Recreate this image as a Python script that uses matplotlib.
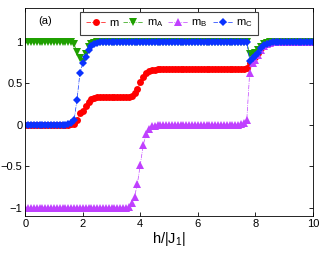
import numpy as np
import matplotlib
matplotlib.use("Agg")
import matplotlib.pyplot as plt

plt.rcParams.update({"font.family": ["Liberation Sans", "DejaVu Sans"],
                     "mathtext.fontset": "custom", "mathtext.rm": "Liberation Sans"})

# field grid h/|J1| = 0, 0.1, ..., 10
h = np.linspace(0, 10, 101)

m_A = [1.00, 1.00, 1.00, 1.00, 1.00, 1.00, 1.00, 1.00, 1.00, 1.00,
       1.00, 1.00, 1.00, 1.00, 1.00, 1.00, 1.00, 0.97, 0.88, 0.80,
       0.76, 0.85, 0.94, 0.98, 0.99, 1.00, 1.00, 1.00, 1.00, 1.00,
       1.00, 1.00, 1.00, 1.00, 1.00, 1.00, 1.00, 1.00, 1.00, 1.00,
       1.00, 1.00, 1.00, 1.00, 1.00, 1.00, 1.00, 1.00, 1.00, 1.00,
       1.00, 1.00, 1.00, 1.00, 1.00, 1.00, 1.00, 1.00, 1.00, 1.00,
       1.00, 1.00, 1.00, 1.00, 1.00, 1.00, 1.00, 1.00, 1.00, 1.00,
       1.00, 1.00, 1.00, 1.00, 1.00, 1.00, 1.00, 1.00, 0.85, 0.84,
       0.86, 0.90, 0.94, 0.97, 0.99, 1.00, 1.00, 1.00, 1.00, 1.00,
       1.00, 1.00, 1.00, 1.00, 1.00, 1.00, 1.00, 1.00, 1.00, 1.00,
       1.00]
m_B = [-1.00, -1.00, -1.00, -1.00, -1.00, -1.00, -1.00, -1.00, -1.00, -1.00,
       -1.00, -1.00, -1.00, -1.00, -1.00, -1.00, -1.00, -1.00, -1.00, -1.00,
       -1.00, -1.00, -1.00, -1.00, -1.00, -1.00, -1.00, -1.00, -1.00, -1.00,
       -1.00, -1.00, -1.00, -1.00, -1.00, -1.00, -0.99, -0.95, -0.87, -0.71,
       -0.48, -0.25, -0.11, -0.05, -0.02, -0.01, 0.00, 0.00, 0.00, 0.00,
       0.00, 0.00, 0.00, 0.00, 0.00, 0.00, 0.00, 0.00, 0.00, 0.00,
       0.00, 0.00, 0.00, 0.00, 0.00, 0.00, 0.00, 0.00, 0.00, 0.00,
       0.00, 0.00, 0.00, 0.00, 0.00, 0.01, 0.02, 0.06, 0.63, 0.74,
       0.78, 0.84, 0.90, 0.95, 0.98, 0.99, 1.00, 1.00, 1.00, 1.00,
       1.00, 1.00, 1.00, 1.00, 1.00, 1.00, 1.00, 1.00, 1.00, 1.00,
       1.00]
m_C = [0.00, 0.00, 0.00, 0.00, 0.00, 0.00, 0.00, 0.00, 0.00, 0.00,
       0.00, 0.00, 0.00, 0.00, 0.00, 0.01, 0.02, 0.06, 0.30, 0.62,
       0.74, 0.82, 0.90, 0.95, 0.98, 0.99, 1.00, 1.00, 1.00, 1.00,
       1.00, 1.00, 1.00, 1.00, 1.00, 1.00, 1.00, 1.00, 1.00, 1.00,
       1.00, 1.00, 1.00, 1.00, 1.00, 1.00, 1.00, 1.00, 1.00, 1.00,
       1.00, 1.00, 1.00, 1.00, 1.00, 1.00, 1.00, 1.00, 1.00, 1.00,
       1.00, 1.00, 1.00, 1.00, 1.00, 1.00, 1.00, 1.00, 1.00, 1.00,
       1.00, 1.00, 1.00, 1.00, 1.00, 1.00, 1.00, 1.00, 0.77, 0.80,
       0.83, 0.87, 0.92, 0.96, 0.98, 0.99, 1.00, 1.00, 1.00, 1.00,
       1.00, 1.00, 1.00, 1.00, 1.00, 1.00, 1.00, 1.00, 1.00, 1.00,
       1.00]
m = [0.00, 0.00, 0.00, 0.00, 0.00, 0.00, 0.00, 0.00, 0.00, 0.00,
     0.00, 0.00, 0.00, 0.00, 0.00, 0.00, 0.01, 0.01, 0.06, 0.14,
     0.17, 0.22, 0.28, 0.31, 0.32, 0.33, 0.33, 0.33, 0.33, 0.33,
     0.33, 0.33, 0.33, 0.33, 0.33, 0.33, 0.34, 0.35, 0.38, 0.43,
     0.51, 0.58, 0.63, 0.65, 0.66, 0.66, 0.67, 0.67, 0.67, 0.67,
     0.67, 0.67, 0.67, 0.67, 0.67, 0.67, 0.67, 0.67, 0.67, 0.67,
     0.67, 0.67, 0.67, 0.67, 0.67, 0.67, 0.67, 0.67, 0.67, 0.67,
     0.67, 0.67, 0.67, 0.67, 0.67, 0.67, 0.67, 0.69, 0.75, 0.79,
     0.82, 0.87, 0.92, 0.96, 0.98, 0.99, 1.00, 1.00, 1.00, 1.00,
     1.00, 1.00, 1.00, 1.00, 1.00, 1.00, 1.00, 1.00, 1.00, 1.00,
     1.00]

SERIES = [(m, "m", "o", "#ff0000", 5.0),
          (m_A, r"m$_{\mathregular{A}}$", "v", "#1fa000", 5.4),
          (m_B, r"m$_{\mathregular{B}}$", "^", "#c040ff", 5.4),
          (m_C, r"m$_{\mathregular{C}}$", "D", "#0a32ff", 4.2)]

fig = plt.figure(figsize=(3.23, 2.54), dpi=100)
ax = fig.add_axes([0.078, 0.15, 0.891, 0.819])
for vals, lab, mk, c, ms in SERIES:
    ax.plot(h, vals, linestyle="-.", lw=0.5, color=c, marker=mk, ms=ms,
            markeredgewidth=0, label=lab)

ax.set_xlim(0, 10); ax.set_ylim(-1.1, 1.41)
ax.set_xticks([0, 2, 4, 6, 8, 10]); ax.set_yticks([-1, -0.5, 0, 0.5, 1])
ax.set_yticklabels(["\u22121", "\u22120.5", "0", "0.5", "1"])
ax.tick_params(direction="in", length=3, width=0.6, labelsize=8, top=True, right=True, pad=2)
for s in ax.spines.values():
    s.set_linewidth(0.6)
ax.set_xlabel(r"h/|J$_{\mathregular{1}}$|", fontsize=10.5, labelpad=1)
ax.text(0.07, 0.935, "(a)", transform=ax.transAxes, fontsize=8, ha="center", va="center")
leg = ax.legend(ncol=4, loc="upper center", bbox_to_anchor=(0.5, 0.98), fontsize=8,
                fancybox=False, framealpha=1, edgecolor="#404040", handlelength=1.8,
                handletextpad=0.3, columnspacing=0.45, borderpad=0.5, borderaxespad=0)
leg.get_frame().set_linewidth(0.8)

fig.savefig("out.png", dpi=100)
